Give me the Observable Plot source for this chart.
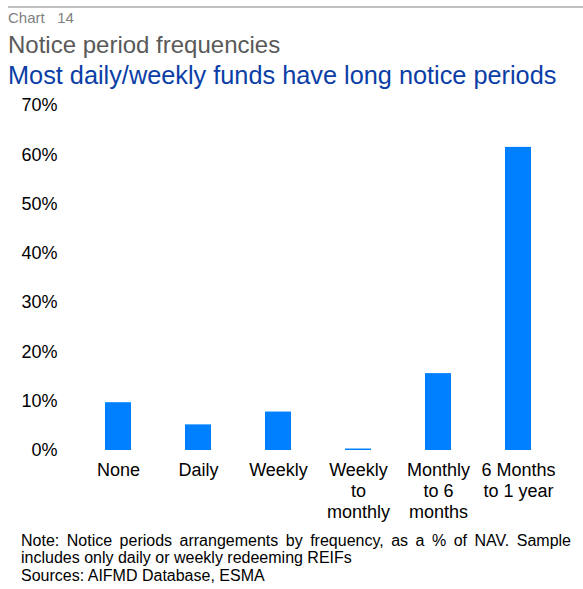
<!DOCTYPE html>
<html>
<head>
<meta charset="utf-8">
<script src="https://cdn.jsdelivr.net/npm/d3@7"></script>
<script src="https://cdn.jsdelivr.net/npm/@observablehq/plot@0.6"></script>
<style>
  html, body { margin: 0; padding: 0; background: #fff; }
  body { font-family: "Liberation Sans", Arial, sans-serif; }
  #wrap { position: relative; width: 583px; height: 589px; overflow: hidden; }
  .rule { position: absolute; left: 8px; right: 0; top: 6px; height: 0; border-top: 2px solid #c0c0c0; }
  .kicker { position: absolute; left: 8px; top: 10px; font-size: 15px; line-height: 15px; color: #808080; white-space: nowrap; }
  .title { position: absolute; left: 8px; top: 33px; font-size: 24px; line-height: 24px; color: #595959; white-space: nowrap; }
  .subtitle { position: absolute; left: 8px; top: 63px; font-size: 25.3px; line-height: 25px; color: #0a3ea6; white-space: nowrap; }
  #chart { position: absolute; left: 0; top: 90px; }
  .note { position: absolute; left: 21px; top: 532px; width: 550px; font-size: 16px; line-height: 17.3px; color: #000; }
  .note p { margin: 0; text-align: justify; }
</style>
</head>
<body>
<div id="wrap">
  <div class="rule"></div>
  <div class="kicker">Chart&nbsp;&nbsp;&nbsp;14</div>
  <div class="title">Notice period frequencies</div>
  <div class="subtitle">Most daily/weekly funds have long notice periods</div>
  <div id="chart"></div>
  <div class="note">
    <p>Note: Notice periods arrangements by frequency, as a % of NAV. Sample includes only daily or weekly redeeming REIFs</p>
    <div>Sources: AIFMD Database, ESMA</div>
  </div>
</div>
<script>
const categories = ["None", "Daily", "Weekly", "Weekly\nto\nmonthly", "Monthly\nto 6\nmonths", "6 Months\nto 1 year"];
const values = [9.7, 5.2, 7.8, 0.3, 15.6, 61.5];
const yTicks = [0, 10, 20, 30, 40, 50, 60, 70];

const data = categories.map((c, i) => ({category: c, value: values[i]}));

const chart = Plot.plot({
  width: 583,
  height: 435,
  marginTop: 15,
  marginBottom: 75,
  marginLeft: 75,
  marginRight: 23,
  style: {fontFamily: '"Liberation Sans", Arial, sans-serif', fontSize: "18px", color: "#000", background: "transparent"},
  x: {domain: categories, paddingInner: 0.68, paddingOuter: 0.34, label: null},
  y: {domain: [0, 70], label: null},
  marks: [
    Plot.barY(data, {x: "category", y: "value", fill: "#0080ff"}),
    Plot.axisX({tickSize: 0, tickPadding: 10.5, fontSize: 18, lineHeight: 1.167, label: null}),
    Plot.axisY({ticks: yTicks, tickSize: 0, tickPadding: 18, fontSize: 18, tickFormat: d => d + "%", label: null})
  ]
});
document.getElementById("chart").appendChild(chart);
</script>
</body>
</html>
